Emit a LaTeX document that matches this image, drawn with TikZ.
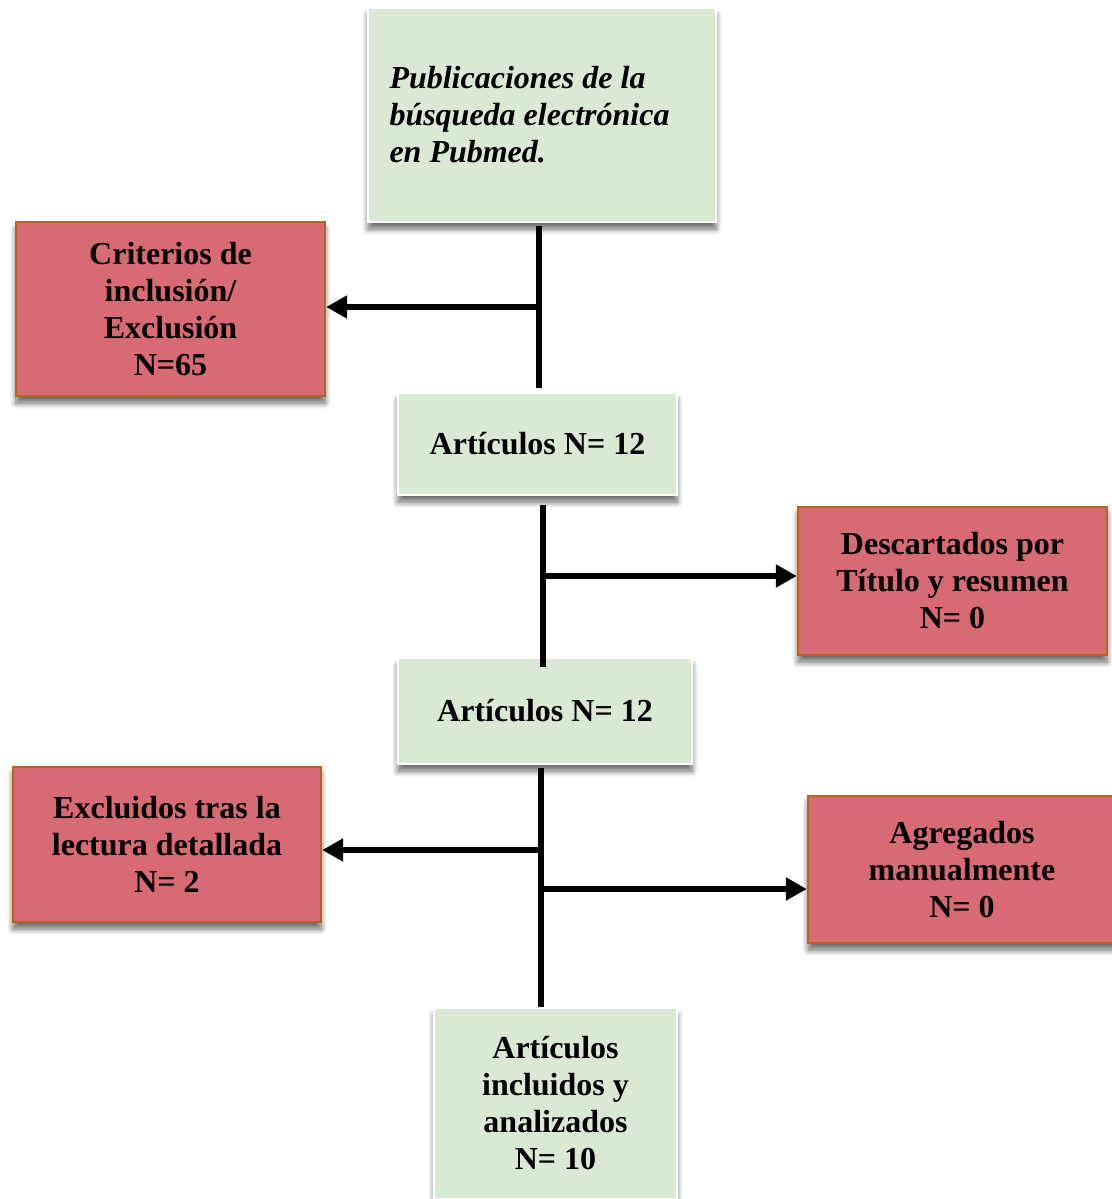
\documentclass[tikz,border=0pt]{standalone}
\usepackage{fontspec}
\setmainfont{Liberation Serif}
\usepackage{tikz}
\usetikzlibrary{positioning}
\usetikzlibrary{calc}
\usetikzlibrary{shadows.blur}
\usetikzlibrary{arrows.meta}

\definecolor{boxgreen}{RGB}{217,233,212}
\definecolor{boxred}{RGB}{216,106,116}
\definecolor{redline}{RGB}{184,98,30}

\tikzset{
  flowbox/.style={rectangle, inner sep=0pt, align=center,
    font=\fontsize{16}{18.5}\selectfont\bfseries,
    blur shadow={shadow xshift=0pt, shadow yshift=-3.5pt, shadow blur radius=3pt,
                 shadow blur steps=8, shadow opacity=60}},
  greenbox/.style={flowbox, fill=boxgreen, draw=white, line width=1pt},
  redbox/.style={flowbox, fill=boxred, draw=redline, line width=1.2pt},
  trunk/.style={line width=3.3pt, draw=black},
  branch/.style={line width=3pt, draw=black, -{Triangle[length=10.5pt, width=11pt]}}
}

\begin{document}
\begin{tikzpicture}[x=0.5pt, y=-0.5pt]

        % Page frame
        \useasboundingbox (0,0) rectangle (1112,1199);
        \clip (0,0) rectangle (1112,1199);

        % Green boxes (main flow)
        \node[greenbox, minimum width=174pt, minimum height=107pt, text width=152.5pt, align=flush left,
              font=\fontsize{16}{18.5}\selectfont\bfseries\itshape] (search) at (542, 115)
             {Publicaciones de la\\búsqueda electrónica\\en Pubmed.};
        \node[greenbox, minimum width=139.5pt, minimum height=51pt] (art1) at (537.5, 444) {Artículos N= 12};
        \node[greenbox, minimum width=147pt, minimum height=53pt] (art2) at (545, 711) {Artículos N= 12};
        \node[greenbox, minimum width=121.5pt, minimum height=95.5pt] (final) at (555.5, 1103.5)
             {Artículos\\incluidos y\\analizados\\N= 10};

        % Red boxes (side branches)
        \node[redbox, minimum width=154.5pt, minimum height=87pt] (criteria) at (170.5, 309)
             {Criterios de\\inclusión/\\Exclusión\\N=65};
        \node[redbox, minimum width=154.5pt, minimum height=74pt] (discard) at (952.5, 581)
             {Descartados por\\Título y resumen\\N= 0};
        \node[redbox, minimum width=154pt, minimum height=77.5pt] (exclude) at (167, 844.5)
             {Excluidos tras la\\lectura detallada\\N= 2};
        \node[redbox, minimum width=154pt, minimum height=73.5pt] (added) at (962, 869.5)
             {Agregados\\manualmente\\N= 0};

        % Junction points on the vertical lines
        \coordinate (j1) at (539, 226);
        \coordinate (j2) at (543, 505);
        \coordinate (j3) at (541, 768);
        \coordinate (b1) at (539, 307);
        \coordinate (b2) at (543, 576);
        \coordinate (b3l) at (541, 850);
        \coordinate (b3r) at (541, 889);

        % Vertical lines
        \draw[trunk] (j1) -- (j1 |- 0,388);
        \draw[trunk] (j2) -- (j2 |- 0,667);
        \draw[trunk] (j3) -- (j3 |- final.north);

        % Arrows to the side boxes
        \draw[branch] (b1) -- (b1 -| criteria.east);
        \draw[branch] (b2) -- (b2 -| discard.west);
        \draw[branch] (b3l) -- (b3l -| exclude.east);
        \draw[branch] (b3r) -- (b3r -| added.west);

      \end{tikzpicture}
\end{document}
